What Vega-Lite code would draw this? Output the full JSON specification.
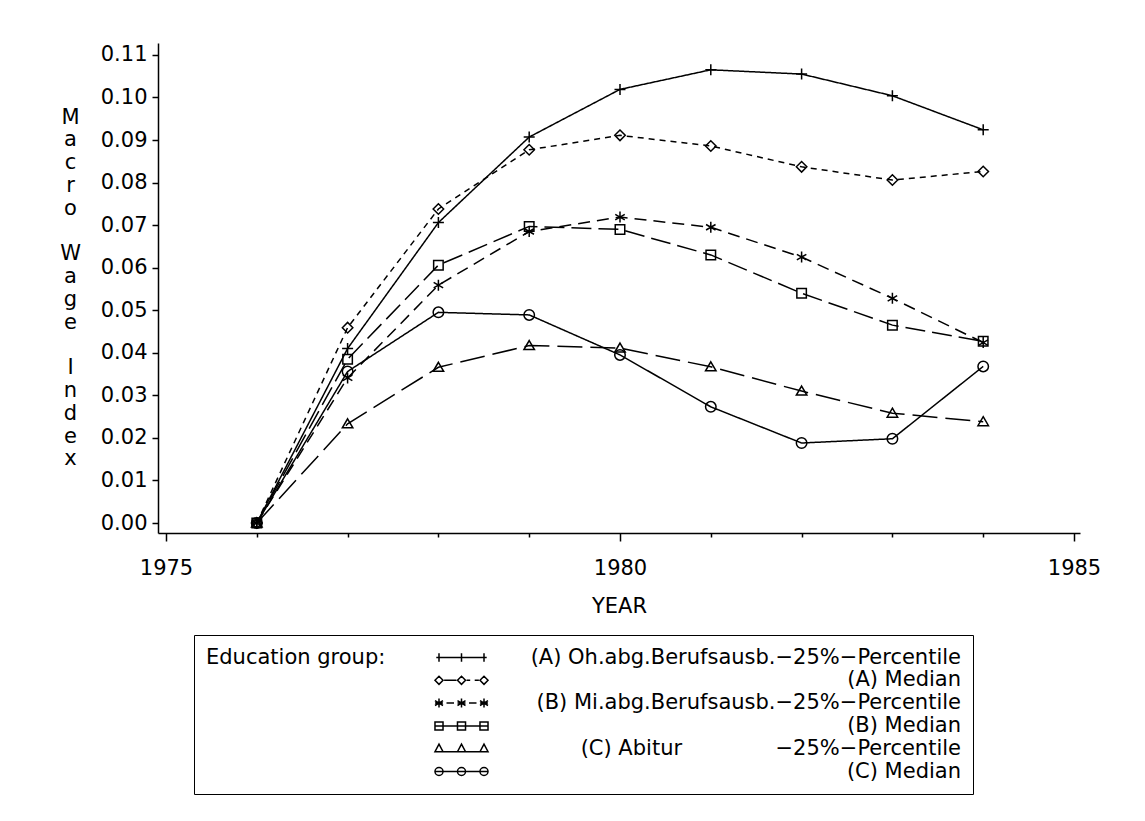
{
  "$schema": "https://vega.github.io/schema/vega-lite/v6.json",
  "width": 922,
  "height": 490,
  "autosize": {"type": "none"},
  "padding": {"left": 158, "top": 43, "right": 65, "bottom": 288},
  "background": "white",
  "config": {"view": {"stroke": null}, "font": "DejaVu Sans"},
  "data": {"values": [
    {"year": 1976, "series": "A25", "value": 0}, {"year": 1977, "series": "A25", "value": 0.0410}, {"year": 1978, "series": "A25", "value": 0.0706}, {"year": 1979, "series": "A25", "value": 0.0907}, {"year": 1980, "series": "A25", "value": 0.1019}, {"year": 1981, "series": "A25", "value": 0.1065}, {"year": 1982, "series": "A25", "value": 0.1055}, {"year": 1983, "series": "A25", "value": 0.1004}, {"year": 1984, "series": "A25", "value": 0.0924},
    {"year": 1976, "series": "A50", "value": 0}, {"year": 1977, "series": "A50", "value": 0.0459}, {"year": 1978, "series": "A50", "value": 0.0738}, {"year": 1979, "series": "A50", "value": 0.0877}, {"year": 1980, "series": "A50", "value": 0.0911}, {"year": 1981, "series": "A50", "value": 0.0886}, {"year": 1982, "series": "A50", "value": 0.0837}, {"year": 1983, "series": "A50", "value": 0.0806}, {"year": 1984, "series": "A50", "value": 0.0826},
    {"year": 1976, "series": "B25", "value": 0}, {"year": 1977, "series": "B25", "value": 0.0341}, {"year": 1978, "series": "B25", "value": 0.0559}, {"year": 1979, "series": "B25", "value": 0.0685}, {"year": 1980, "series": "B25", "value": 0.0719}, {"year": 1981, "series": "B25", "value": 0.0695}, {"year": 1982, "series": "B25", "value": 0.0625}, {"year": 1983, "series": "B25", "value": 0.0528}, {"year": 1984, "series": "B25", "value": 0.0424},
    {"year": 1976, "series": "B50", "value": 0}, {"year": 1977, "series": "B50", "value": 0.0385}, {"year": 1978, "series": "B50", "value": 0.0606}, {"year": 1979, "series": "B50", "value": 0.0697}, {"year": 1980, "series": "B50", "value": 0.0690}, {"year": 1981, "series": "B50", "value": 0.0630}, {"year": 1982, "series": "B50", "value": 0.0540}, {"year": 1983, "series": "B50", "value": 0.0465}, {"year": 1984, "series": "B50", "value": 0.0427},
    {"year": 1976, "series": "C25", "value": 0}, {"year": 1977, "series": "C25", "value": 0.0233}, {"year": 1978, "series": "C25", "value": 0.0366}, {"year": 1979, "series": "C25", "value": 0.0417}, {"year": 1980, "series": "C25", "value": 0.0411}, {"year": 1981, "series": "C25", "value": 0.0367}, {"year": 1982, "series": "C25", "value": 0.0310}, {"year": 1983, "series": "C25", "value": 0.0258}, {"year": 1984, "series": "C25", "value": 0.0238},
    {"year": 1976, "series": "C50", "value": 0}, {"year": 1977, "series": "C50", "value": 0.0356}, {"year": 1978, "series": "C50", "value": 0.0495}, {"year": 1979, "series": "C50", "value": 0.0489}, {"year": 1980, "series": "C50", "value": 0.0395}, {"year": 1981, "series": "C50", "value": 0.0273}, {"year": 1982, "series": "C50", "value": 0.0188}, {"year": 1983, "series": "C50", "value": 0.0198}, {"year": 1984, "series": "C50", "value": 0.0368}
  ]},
  "encoding": {
    "x": {
      "field": "year", "type": "quantitative",
      "scale": {"domain": [1974.912, 1985.066], "nice": false, "zero": false},
      "axis": {
        "values": [1975, 1976, 1977, 1978, 1979, 1980, 1981, 1982, 1983, 1984, 1985],
        "format": "d",
        "labelExpr": "datum.value % 5 === 0 ? datum.label : ''",
        "tickSize": {"condition": {"test": "datum.value % 5 === 0", "value": 8}, "value": 4},
        "tickColor": "black", "tickWidth": 1.5,
        "domainColor": "black", "domainWidth": 1.5,
        "grid": false,
        "labelFontSize": 21, "labelColor": "black", "labelPadding": 16, "labelFlush": false, "labelOverlap": false,
        "title": "YEAR", "titleFontSize": 21, "titleFontWeight": "normal", "titleColor": "black", "titlePadding": 17
      }
    },
    "y": {
      "field": "value", "type": "quantitative",
      "scale": {"domain": [-0.00235, 0.1128], "nice": false, "zero": false},
      "axis": {
        "values": [0, 0.01, 0.02, 0.03, 0.04, 0.05, 0.06, 0.07, 0.08, 0.09, 0.1, 0.11],
        "format": ".2f",
        "tickSize": 6, "tickColor": "black", "tickWidth": 1.5,
        "domainColor": "black", "domainWidth": 1.5,
        "grid": false,
        "labelFontSize": 21, "labelColor": "black", "labelPadding": 5,
        "title": ["M", "a", "c", "r", "o", "\u2800", "W", "a", "g", "e", "\u2800", "I", "n", "d", "e", "x"],
        "titleAngle": 0, "titleX": -88, "titleY": 63, "titleAlign": "center", "titleBaseline": "top",
        "titleLineHeight": 22.8, "titleFontSize": 21, "titleFontWeight": "normal", "titleColor": "black"
      }
    }
  },
  "layer": [
    {
      "mark": {"type": "line", "color": "black", "strokeWidth": 1.5},
      "encoding": {
        "strokeDash": {
          "field": "series", "type": "nominal",
          "scale": {"domain": ["A25", "A50", "B25", "B50", "C25", "C50"], "range": [[1, 0], [6, 5], [12, 7], [20, 7], [25, 8], [1, 0]]},
          "legend": null
        }
      }
    },
    {
      "mark": {"type": "point", "filled": false, "color": "black", "strokeWidth": 1.5, "size": 100, "opacity": 1},
      "encoding": {
        "shape": {
          "field": "series", "type": "nominal",
          "scale": {
            "domain": ["A25", "A50", "B25", "B50", "C25", "C50"],
            "range": [
              "M-1.1,0H1.1M0,-1.1V1.1",
              "M-1.05,0L0,-1.05L1.05,0L0,1.05Z",
              "M0,-1.1V1.1M-0.95,-0.55L0.95,0.55M-0.95,0.55L0.95,-0.55",
              "M-0.95,-0.95H0.95V0.95H-0.95Z",
              "M0,-1L1.05,0.8H-1.05Z",
              "M1.05,0A1.05,1.05 0 1,1 -1.05,0A1.05,1.05 0 1,1 1.05,0Z"
            ]
          },
          "legend": null
        }
      }
    },
    {
      "mark": {"type": "point", "filled": false, "color": "black", "strokeWidth": 1.5, "opacity": 0},
      "encoding": {
        "shape": {
          "field": "series", "type": "nominal",
          "scale": {
            "domain": ["A25", "A50", "B25", "B50", "C25", "C50"],
            "range": [
              "M-4.2,0H4.2M-3.75,-0.7V0.7M0,-0.7V0.7M3.75,-0.7V0.7",
              "M-4.42,0L-3.75,-0.67L-3.08,0L-3.75,0.67ZM-0.67,0L0,-0.67L0.67,0L0,0.67ZM3.08,0L3.75,-0.67L4.42,0L3.75,0.67ZM-2.9,0H-0.85M0.85,0H1.45M2.2,0H2.9",
              "M-3.75,-0.75V0.75M-4.42,-0.4L-3.08,0.4M-4.42,0.4L-3.08,-0.4M-4.42,0H-3.08M0,-0.75V0.75M-0.67,-0.4L0.67,0.4M-0.67,0.4L0.67,-0.4M-0.67,0H0.67M3.75,-0.75V0.75M3.08,-0.4L4.42,0.4M3.08,0.4L4.42,-0.4M3.08,0H4.42M-2.5,0H-1.25M1.25,0H2.5",
              "M-4.42,0H4.42M-4.42,-0.67H-3.08V0.67H-4.42ZM-0.67,-0.67H0.67V0.67H-0.67ZM3.08,-0.67H4.42V0.67H3.08Z",
              "M-4.42,0.5H4.42M-3.75,-0.75L-3.08,0.5H-4.42ZM0,-0.75L0.67,0.5H-0.67ZM3.75,-0.75L4.42,0.5H3.08Z",
              "M-4.42,0H4.42M-3.08,0A0.67,0.67 0 1,1 -4.42,0A0.67,0.67 0 1,1 -3.08,0ZM0.67,0A0.67,0.67 0 1,1 -0.67,0A0.67,0.67 0 1,1 0.67,0ZM4.42,0A0.67,0.67 0 1,1 3.08,0A0.67,0.67 0 1,1 4.42,0Z"
            ]
          },
          "legend": {
            "title": "Education group:",
            "orient": "none", "legendX": 36, "legendY": 592, "direction": "vertical",
            "strokeColor": "black", "fillColor": "white", "padding": 12,
            "titleOrient": "left", "titleAnchor": "start", "titleBaseline": "top", "titlePadding": 65,
            "titleFontSize": 21, "titleFontWeight": "normal", "titleColor": "black", "titleLimit": 400,
            "symbolSize": 144, "symbolStrokeWidth": 1.5, "symbolStrokeColor": "black", "symbolFillColor": "transparent", "symbolOpacity": 1,
            "labelFontSize": 21, "labelColor": "black", "labelAlign": "right", "labelBaseline": "middle", "labelOffset": 489, "labelLimit": 0,
            "rowPadding": 0.8,
            "encode": {"legend": {"update": {"strokeWidth": {"value": 1.5}}}},
            "labelExpr": "{'A25': '(A) Oh.abg.Berufsausb.\u221225%\u2212Percentile', 'A50': '(A) Median', 'B25': '(B) Mi.abg.Berufsausb.\u221225%\u2212Percentile', 'B50': '(B) Median', 'C25': '(C) Abitur\u00a0\u00a0\u00a0\u00a0\u00a0\u00a0\u00a0\u00a0\u00a0\u00a0\u00a0\u00a0\u00a0\u00a0\u221225%\u2212Percentile', 'C50': '(C) Median'}[datum.label]"
          }
        }
      }
    }
  ],
  "resolve": {"scale": {"shape": "independent"}, "legend": {"shape": "independent"}}
}
